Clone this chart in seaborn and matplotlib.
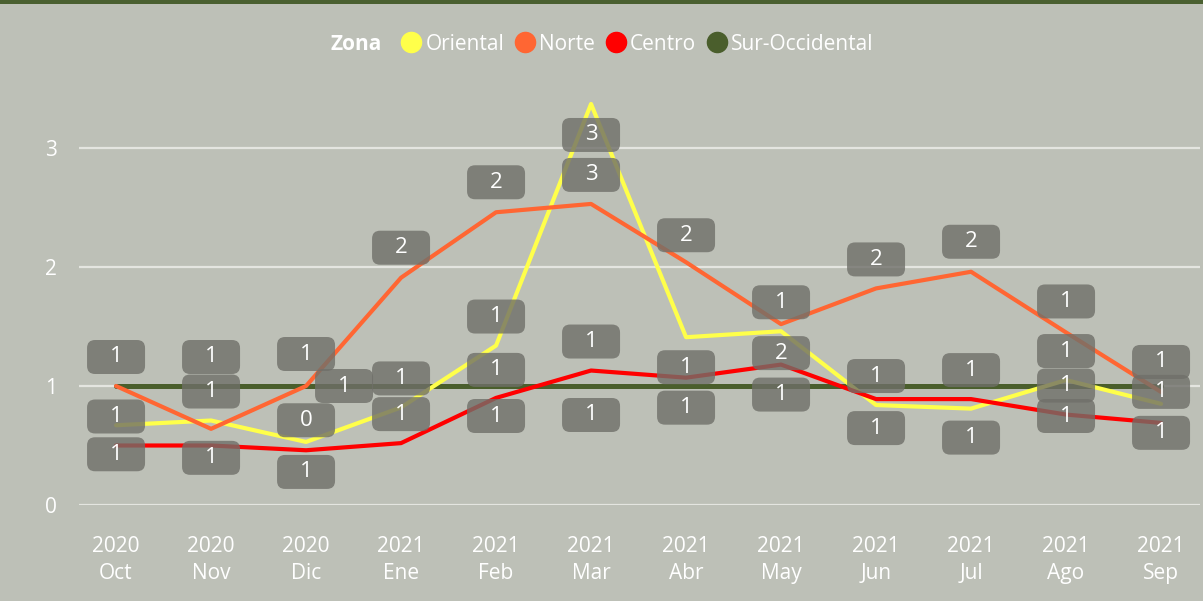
import numpy as np
import pandas as pd
import matplotlib
matplotlib.use("Agg")
import matplotlib.pyplot as plt
import matplotlib.transforms as mtransforms
from matplotlib.patches import FancyBboxPatch, Rectangle
from matplotlib.lines import Line2D
import seaborn as sns

# ---- data -------------------------------------------------------------
years = ["2020", "2020", "2020", "2021", "2021", "2021",
         "2021", "2021", "2021", "2021", "2021", "2021"]
months = ["Oct", "Nov", "Dic", "Ene", "Feb", "Mar",
          "Abr", "May", "Jun", "Jul", "Ago", "Sep"]
zonas = ["Oriental", "Norte", "Centro", "Sur-Occidental"]

oriental = [0.67, 0.71, 0.53, 0.82, 1.34, 3.37, 1.41, 1.46, 0.84, 0.81, 1.05, 0.85]
norte = [1.00, 0.64, 1.00, 1.91, 2.46, 2.53, 2.04, 1.52, 1.82, 1.96, 1.45, 0.95]
centro = [0.50, 0.50, 0.46, 0.52, 0.90, 1.13, 1.07, 1.18, 0.89, 0.89, 0.76, 0.69]
sur_occidental = [1.00, 1.00, 1.00, 1.00, 1.00, 1.00, 1.00, 1.00, 1.00, 1.00, 1.00, 1.00]

y_ticks = [0, 1, 2, 3]

# ---- styling ----------------------------------------------------------
BG = "#bdc0b7"
colors = {
    "Oriental": "#ffff4a",
    "Norte": "#ff6633",
    "Centro": "#ff0000",
    "Sur-Occidental": "#4a5e2c",
}
widths = {"Oriental": 3.0, "Norte": 3.0, "Centro": 3.0, "Sur-Occidental": 3.6}

# data-label placement: pixel offsets (dx, dy) from each point, dy up; None = hidden
label_offsets = {
    "Oriental": [(0, -29), (0, 29), (0, -30), (0, 29), (0, 29), (0, -31),
                 (0, -30), (0, 29), (0, 29), (0, -29), (0, 29), (0, -29)],
    "Norte": [(0, 29), (0, -29), (0, 32), (0, 30), (0, 30), (0, 29),
              (0, 27), (0, -29), (0, 29), (0, 30), (0, 31), (0, 30)],
    "Centro": [(0, 29), None, (0, 30), (0, 29), (0, 28), (0, 29),
               (0, -30), (0, -30), (0, -29), (0, 29), (0, 29), (0, 31)],
    "Sur-Occidental": [None, (0, 29), (38, 0), None, (0, -30), (0, -29),
                       None, None, None, None, (0, -30), None],
}


def label_text(v):
    # round half away from zero
    return str(int(np.floor(v + 0.5)))


sns.set_theme(style="white")
plt.rcParams["font.family"] = ["Open Sans", "DejaVu Sans"]

W, H, DPI = 1203, 601, 100
fig = plt.figure(figsize=(W / DPI, H / DPI), dpi=DPI, facecolor=BG)

# axes box in pixels: left 79, right 1200, y=0 at 505
ax_left, ax_right, y0_px, ax_top = 79, 1200, 505, 80
ax = fig.add_axes([ax_left / W, (H - y0_px) / H,
                   (ax_right - ax_left) / W, (y0_px - ax_top) / H])
ax.set_facecolor(BG)

# long-format table for seaborn
series = {"Oriental": oriental, "Norte": norte, "Centro": centro,
          "Sur-Occidental": sur_occidental}
rows = []
for z in zonas:
    for i, v in enumerate(series[z]):
        rows.append({"idx": i, "valor": v, "Zona": z})
df = pd.DataFrame(rows)

draw_order = ["Sur-Occidental", "Oriental", "Norte", "Centro"]
for z in draw_order:
    sub = df[df["Zona"] == z]
    sns.lineplot(data=sub, x="idx", y="valor", color=colors[z],
                 linewidth=widths[z], ax=ax, legend=False, zorder=3)

n = len(months)
ax.set_xlim(-0.39, 11.41)
ax.set_ylim(0, (y0_px - ax_top) / 119.0)
ax.set_xticks(range(n))
ax.set_xticklabels([f"{y}\n{m}" for y, m in zip(years, months)],
                   color="white", fontsize=15, linespacing=1.42)
ax.set_yticks(y_ticks)
ax.set_yticklabels([str(t) for t in y_ticks], color="white", fontsize=15)
ax.tick_params(axis="x", length=0, pad=22)
ax.tick_params(axis="y", length=0, pad=16)
ax.set_xlabel("")
ax.set_ylabel("")
for s in ax.spines.values():
    s.set_visible(False)
ax.grid(False)
for t in y_ticks:
    ax.axhline(t, color="#e4e5e0", lw=1.6, zorder=1)

# data labels: rounded grey boxes with the rounded value
BOX_W, BOX_H = 58, 34
for z in zonas:
    for i, v in enumerate(series[z]):
        off = label_offsets[z][i]
        if off is None:
            continue
        dx, dy = off
        anchor = mtransforms.ScaledTranslation(i, v, ax.transData)
        tr = mtransforms.Affine2D().translate(dx, dy) + anchor
        box = FancyBboxPatch((-BOX_W / 2, -BOX_H / 2), BOX_W, BOX_H,
                             boxstyle="round,pad=0,rounding_size=8",
                             transform=tr, facecolor="#6f6f69",
                             edgecolor="none", alpha=0.8, zorder=5,
                             clip_on=False)
        ax.add_artist(box)
        ax.annotate(label_text(v), xy=(i, v), xytext=(dx, dy),
                    textcoords="offset pixels", ha="center", va="center",
                    color="white", fontsize=16, zorder=6,
                    annotation_clip=False)

# legend row
handles = [Line2D([], [], marker="o", linestyle="", markersize=14.5,
                  markerfacecolor=colors[z], markeredgecolor=colors[z])
           for z in zonas]
leg = fig.legend(handles, zonas, loc="center",
                 bbox_to_anchor=(637 / W, 1 - 44 / H), ncol=4,
                 frameon=False, fontsize=15, labelcolor="white",
                 handlelength=1.0, handletextpad=0.17, columnspacing=0.5,
                 borderaxespad=0, borderpad=0)
fig.text(356 / W, 1 - 44 / H, "Zona", ha="center", va="center",
         color="white", fontsize=15, fontweight="bold")

# dark green band along the top edge
fig.add_artist(Rectangle((0, 1 - 4 / H), 1, 4 / H, transform=fig.transFigure,
                         facecolor="#4a6030", edgecolor="none", zorder=10))

fig.savefig("out.png", dpi=DPI, facecolor=BG)
